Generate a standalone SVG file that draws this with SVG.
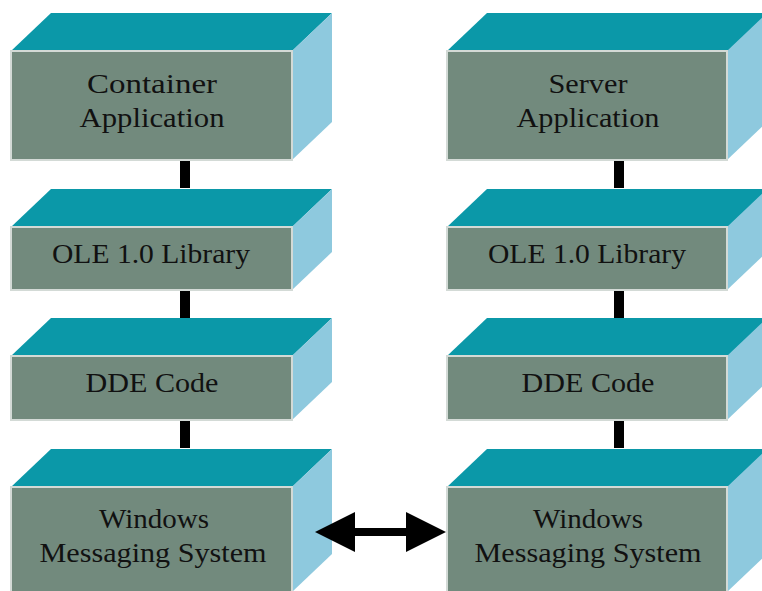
<svg xmlns="http://www.w3.org/2000/svg" width="762" height="591" viewBox="0 0 762 591">
<style>
.top{fill:#0b98a8}
.side{fill:#8ec9de}
.front{fill:#728a7d;stroke:#d3dad6;stroke-width:2}
.lbl{font-family:"Liberation Serif","Times New Roman",serif;font-size:28px;fill:#111;text-anchor:middle}
.bar{fill:#000}
</style>
<rect width="762" height="591" fill="#fff"/>
<g id="container-app">
<polygon class="top" points="11,51 51,13 332,13 292,51"/>
<polygon class="side" points="292,51 332,13 332,122 292,160"/>
<rect class="front" x="11" y="51" width="281" height="109"/>
<text class="lbl" x="152" y="93" textLength="130" lengthAdjust="spacingAndGlyphs">Container</text>
<text class="lbl" x="152" y="127" textLength="145" lengthAdjust="spacingAndGlyphs">Application</text>
</g>
<g id="ole-left">
<polygon class="top" points="11,227 51,189 332,189 292,227"/>
<polygon class="side" points="292,227 332,189 332,252 292,290"/>
<rect class="front" x="11" y="227" width="281" height="63"/>
<text class="lbl" x="151" y="263" textLength="198" lengthAdjust="spacingAndGlyphs">OLE 1.0 Library</text>
</g>
<g id="dde-left">
<polygon class="top" points="11,356 51,318 332,318 292,356"/>
<polygon class="side" points="292,356 332,318 332,382 292,420"/>
<rect class="front" x="11" y="356" width="281" height="64"/>
<text class="lbl" x="152" y="392" textLength="133" lengthAdjust="spacingAndGlyphs">DDE Code</text>
</g>
<g id="wms-left">
<polygon class="top" points="11,487 51,449 332,449 292,487"/>
<polygon class="side" points="292,487 332,449 332,554 292,592"/>
<rect class="front" x="11" y="487" width="281" height="110"/>
<text class="lbl" x="154" y="528" textLength="110" lengthAdjust="spacingAndGlyphs">Windows</text>
<text class="lbl" x="153" y="562" textLength="227" lengthAdjust="spacingAndGlyphs">Messaging System</text>
</g>
<g id="server-app">
<polygon class="top" points="447,51 487,13 768,13 728,51"/>
<polygon class="side" points="727,51 767,13 767,122 727,160"/>
<rect class="front" x="447" y="51" width="280" height="109"/>
<text class="lbl" x="588" y="93" textLength="79" lengthAdjust="spacingAndGlyphs">Server</text>
<text class="lbl" x="588" y="127" textLength="143" lengthAdjust="spacingAndGlyphs">Application</text>
</g>
<g id="ole-right">
<polygon class="top" points="447,227 487,189 768,189 728,227"/>
<polygon class="side" points="727,227 767,189 767,252 727,290"/>
<rect class="front" x="447" y="227" width="280" height="63"/>
<text class="lbl" x="587" y="263" textLength="198" lengthAdjust="spacingAndGlyphs">OLE 1.0 Library</text>
</g>
<g id="dde-right">
<polygon class="top" points="447,356 487,318 768,318 728,356"/>
<polygon class="side" points="727,356 767,318 767,382 727,420"/>
<rect class="front" x="447" y="356" width="280" height="64"/>
<text class="lbl" x="588" y="392" textLength="133" lengthAdjust="spacingAndGlyphs">DDE Code</text>
</g>
<g id="wms-right">
<polygon class="top" points="447,487 487,449 768,449 728,487"/>
<polygon class="side" points="727,487 767,449 767,554 727,592"/>
<rect class="front" x="447" y="487" width="280" height="110"/>
<text class="lbl" x="588" y="528" textLength="110" lengthAdjust="spacingAndGlyphs">Windows</text>
<text class="lbl" x="588" y="562" textLength="227" lengthAdjust="spacingAndGlyphs">Messaging System</text>
</g>
<g id="connectors">
<rect class="bar" x="180" y="161" width="10" height="27"/>
<rect class="bar" x="180" y="291" width="10" height="27"/>
<rect class="bar" x="180" y="421" width="10" height="27"/>
<rect class="bar" x="614" y="161" width="10" height="27"/>
<rect class="bar" x="614" y="291" width="10" height="27"/>
<rect class="bar" x="614" y="421" width="10" height="27"/>
<polygon class="bar" points="315,532 355,512 355,528 406,528 406,512 446,532 406,552 406,536 355,536 355,552"/>
</g>
</svg>
